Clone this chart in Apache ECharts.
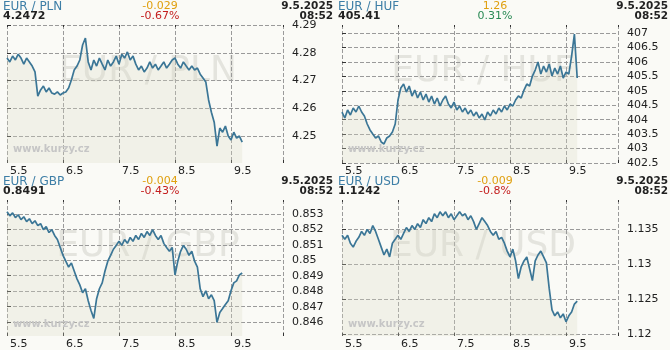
<!DOCTYPE html>
<html><head><meta charset="utf-8">
<script src="https://cdn.jsdelivr.net/npm/echarts@6/dist/echarts.min.js"></script>
<style>html,body{margin:0;padding:0;background:#fafaf6;}#c{width:670px;height:350px;}</style>
</head><body><div id="c"></div><script>
const dayLabels = ['5.5','6.5','7.5','8.5','9.5'];
const times = [0,0.05,0.1,0.15,0.2,0.25,0.3,0.35,0.4,0.45,0.5,0.55,0.6,0.65,0.7,0.75,0.8,0.85,0.9,0.95,1,1.05,1.1,1.15,1.2,1.25,1.3,1.35,1.4,1.45,1.5,1.55,1.6,1.65,1.7,1.75,1.8,1.85,1.9,1.95,2,2.05,2.1,2.15,2.2,2.25,2.3,2.35,2.4,2.45,2.5,2.55,2.6,2.65,2.7,2.75,2.8,2.85,2.9,2.95,3,3.05,3.1,3.15,3.2,3.25,3.3,3.35,3.4,3.45,3.5,3.55,3.6,3.65,3.7,3.75,3.8,3.85,3.9,3.95,4,4.05,4.1,4.15,4.2];

const plnValues = [4.2781,4.2767,4.2788,4.2774,4.2795,4.2781,4.2759,4.2781,4.2767,4.2752,4.2731,4.2644,4.2666,4.2680,4.2659,4.2673,4.2655,4.2651,4.2659,4.2648,4.2655,4.2659,4.2673,4.2702,4.2738,4.2752,4.2774,4.2828,4.2853,4.2767,4.2738,4.2774,4.2752,4.2781,4.2759,4.2738,4.2774,4.2752,4.2767,4.2788,4.2759,4.2795,4.2781,4.2803,4.2774,4.2788,4.2759,4.2738,4.2752,4.2731,4.2745,4.2767,4.2745,4.2759,4.2738,4.2752,4.2767,4.2745,4.2759,4.2774,4.2781,4.2759,4.2745,4.2767,4.2752,4.2738,4.2752,4.2738,4.2745,4.2723,4.2709,4.2695,4.2630,4.2586,4.2550,4.2464,4.2529,4.2514,4.2536,4.2500,4.2486,4.2514,4.2493,4.2500,4.2478];
const hufValues = [404.266,404.059,404.336,404.163,404.405,404.266,404.474,404.266,404.128,403.851,403.644,403.505,403.367,403.436,403.228,403.159,403.367,403.436,403.574,403.851,404.682,405.097,405.235,404.958,405.166,404.820,405.028,404.751,404.958,404.682,404.889,404.612,404.820,404.543,404.751,404.474,404.682,404.820,404.543,404.405,404.612,404.336,404.474,404.266,404.405,404.197,404.336,404.128,404.266,404.059,404.197,403.990,404.266,404.128,404.336,404.197,404.405,404.266,404.474,404.336,404.543,404.474,404.682,404.820,404.751,405.028,405.235,405.166,405.512,405.720,405.997,405.581,405.858,405.651,405.927,405.512,405.789,405.581,405.858,405.443,405.651,405.581,406.204,406.965,405.443];
const gbpValues = [0.85313,0.85287,0.85306,0.85275,0.85294,0.85262,0.85281,0.85249,0.85268,0.85236,0.85255,0.85224,0.85236,0.85198,0.85217,0.85179,0.85198,0.85160,0.85134,0.85083,0.85032,0.84994,0.84956,0.84982,0.84931,0.84880,0.84841,0.84790,0.84816,0.84739,0.84676,0.84625,0.84752,0.84816,0.84854,0.84931,0.84994,0.85032,0.85071,0.85096,0.85122,0.85096,0.85134,0.85109,0.85147,0.85122,0.85160,0.85134,0.85173,0.85147,0.85185,0.85160,0.85198,0.85160,0.85134,0.85160,0.85109,0.85083,0.85058,0.85083,0.84905,0.84994,0.85058,0.85096,0.85071,0.85032,0.85058,0.84994,0.84956,0.84816,0.84765,0.84803,0.84752,0.84777,0.84739,0.84599,0.84663,0.84688,0.84714,0.84739,0.84803,0.84854,0.84867,0.84905,0.84918];
const usdValues = [1.13416,1.13359,1.13416,1.13303,1.13247,1.13331,1.13387,1.13472,1.13416,1.13500,1.13444,1.13556,1.13472,1.13359,1.13247,1.13134,1.13218,1.13106,1.13303,1.13359,1.13416,1.13359,1.13444,1.13528,1.13472,1.13556,1.13500,1.13584,1.13528,1.13641,1.13584,1.13669,1.13613,1.13725,1.13669,1.13753,1.13697,1.13753,1.13669,1.13725,1.13641,1.13697,1.13753,1.13697,1.13725,1.13641,1.13697,1.13613,1.13500,1.13584,1.13669,1.13613,1.13556,1.13472,1.13416,1.13472,1.13359,1.13387,1.13303,1.13190,1.13106,1.13218,1.13049,1.12796,1.12965,1.13049,1.13106,1.12937,1.12768,1.13049,1.13134,1.13190,1.13106,1.13021,1.12655,1.12346,1.12261,1.12317,1.12233,1.12289,1.12176,1.12261,1.12317,1.12430,1.12472];

const plnTicks = [4.25,4.26,4.27,4.28,4.29];
const hufTicks = [402.5,403,403.5,404,404.5,405,405.5,406,406.5,407];
const gbpTicks = [0.846,0.847,0.848,0.849,0.85,0.851,0.852,0.853];
const usdTicks = [1.12,1.125,1.13,1.135];

const pairs = ['EUR / PLN','EUR / HUF','EUR / GBP','EUR / USD'];
const lastRates = ['4.2472','405.41','0.8491','1.1242'];
const changes = ['-0.029','1.26','-0.004','-0.009'];
const changePcts = ['-0.67%','0.31%','-0.43%','-0.8%'];
const dateText = '9.5.2025';
const timeText = '08:52';

const seriesValues = [plnValues, hufValues, gbpValues, usdValues];
const tickSets = [plnTicks, hufTicks, gbpTicks, usdTicks];
const ranges = [[4.2403,4.29],[402.5,407.28],[0.84511,0.85389],[1.11972,1.13923]];

const FONT = "'DejaVu Sans', Verdana, sans-serif";
const LINE = '#3b7696';
const GRIDC = '#9a9a9a';
const origins = [[0,0],[335,0],[0,175],[335,175]];

const grids = [], xAxes = [], yAxes = [], series = [], graphics = [];
origins.forEach(([ox, oy], k) => {
  grids.push({left: ox + 7, top: oy + 25, width: 276, height: 138});
  xAxes.push({
    gridIndex: k, type: 'value', min: 0, max: 276/56, interval: 1, position: 'bottom',
    axisLine: {show: false},
    axisTick: {show: true, inside: true, length: 3, lineStyle: {color: '#333'}},
    axisLabel: {color: '#222', fontFamily: FONT, fontSize: 11, margin: 3, align: 'left', padding: [0,0,0,3],
      formatter: v => (Math.abs(v - Math.round(v)) < 1e-6 && dayLabels[Math.round(v)]) || ''},
    splitLine: {show: true, lineStyle: {color: GRIDC, type: 'dashed', width: 1}}
  });
  xAxes.push({
    gridIndex: k, type: 'value', min: 0, max: 276/56, interval: 1, position: 'top',
    axisLine: {show: false},
    axisTick: {show: true, inside: true, length: 2, lineStyle: {color: '#333'}},
    axisLabel: {show: false}, splitLine: {show: false}
  });
  const ticks = tickSets[k];
  yAxes.push({
    gridIndex: k, type: 'value', position: 'right', min: ranges[k][0], max: ranges[k][1],
    axisLine: {show: false},
    axisTick: {show: true, length: 4, lineStyle: {color: '#333'}, customValues: ticks},
    axisLabel: {color: '#222', fontFamily: FONT, fontSize: 11, margin: 9, customValues: ticks,
      formatter: v => String(parseFloat(v.toFixed(6)))},
    splitLine: {show: true, lineStyle: {color: GRIDC, type: 'dashed', width: 1}}
  });
  const data = times.map((t, i) => [t, seriesValues[k][i]]);
  series.push({
    type: 'line', xAxisIndex: 2*k, yAxisIndex: k, data, symbol: 'none', silent: true,
    lineStyle: {width: 0, opacity: 0},
    areaStyle: {color: 'rgba(218,218,196,0.4)', origin: 'start'}
  });
  series.push({
    type: 'line', xAxisIndex: 2*k, yAxisIndex: k, data, symbol: 'none',
    lineStyle: {width: 1.7, color: LINE}
  });
  const txt = (x, y, text, font, fill, align) => ({
    type: 'text', x, y, z: 8, silent: true,
    style: {text, font, fill, align, textAlign: align, verticalAlign: 'top', textVerticalAlign: 'top'}
  });
  graphics.push(txt(ox + 3, oy + 0.5, pairs[k], `12px ${FONT}`, '#3d7ea6', 'left'));
  graphics.push(txt(ox + 3, oy + 10.5, lastRates[k], `bold 11px ${FONT}`, '#222', 'left'));
  graphics.push(txt(ox + 160, oy + 0.5, changes[k], `11px ${FONT}`, '#e0a010', 'center'));
  graphics.push(txt(ox + 160, oy + 10.5, changePcts[k], `11px ${FONT}`, changePcts[k].startsWith('-') ? '#c41e1e' : '#2a8a55', 'center'));
  graphics.push(txt(ox + 333, oy + 0.5, dateText, `bold 10.5px ${FONT}`, '#222', 'right'));
  graphics.push(txt(ox + 333, oy + 10.5, timeText, `bold 10.5px ${FONT}`, '#222', 'right'));
  graphics.push({type: 'text', x: ox + 148, y: oy + 72, z: -1, silent: true,
    style: {text: pairs[k], font: `36px ${FONT}`, fill: '#e4e4de', align: 'center', textAlign: 'center', verticalAlign: 'middle', textVerticalAlign: 'middle'}});
  graphics.push({type: 'text', x: ox + 13, y: oy + 149, z: 8, silent: true,
    style: {text: 'www.kurzy.cz', font: `bold 10px ${FONT}`, fill: '#c6c6c6', align: 'left', textAlign: 'left', verticalAlign: 'middle', textVerticalAlign: 'middle'}});
});

const chart = echarts.init(document.getElementById('c'), null, {renderer: 'canvas'});
chart.setOption({
  backgroundColor: '#fafaf6',
  animation: false,
  grid: grids, xAxis: xAxes, yAxis: yAxes, series,
  graphic: {elements: graphics}
});
</script></body></html>
